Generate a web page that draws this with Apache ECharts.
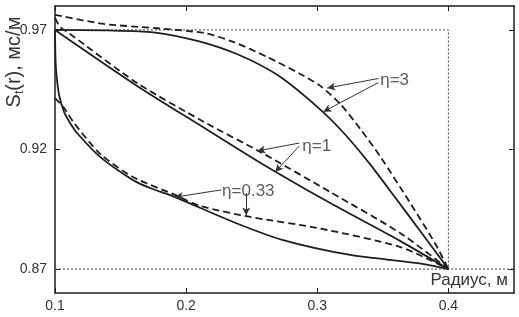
<!DOCTYPE html>
<html>
<head>
<meta charset="utf-8">
<script src="https://cdn.jsdelivr.net/npm/echarts@6/dist/echarts.min.js"></script>
<style>
  html, body { margin: 0; padding: 0; background: #fff; }
  #chart { width: 519px; height: 317px; }
</style>
</head>
<body>
<div id="chart"></div>
<script>
// tick values
var xTicks = [0.1, 0.2, 0.3, 0.4];
var yTicks = [0.87, 0.92, 0.97];

// curves: [radius, S_t]
var eta3Solid = [[0.1, 0.97], [0.14, 0.9698], [0.175, 0.969], [0.21, 0.9652], [0.24, 0.9596],
  [0.27, 0.951], [0.30, 0.9378], [0.32, 0.927], [0.34, 0.914], [0.36, 0.8995], [0.38, 0.8848], [0.4, 0.87]];
var eta3Dash = [[0.1, 0.9763], [0.1374, 0.9725], [0.1756, 0.9708], [0.2137, 0.9687], [0.2359, 0.965],
  [0.2618, 0.9587], [0.287, 0.9516], [0.3023, 0.9466], [0.3176, 0.939], [0.3328, 0.9286],
  [0.3481, 0.917], [0.371, 0.8975], [0.3901, 0.8805], [0.4, 0.87]];
var eta1Solid = [[0.1, 0.97], [0.1626, 0.9466], [0.2137, 0.9291], [0.2565, 0.9145], [0.3099, 0.8976],
  [0.3634, 0.8817], [0.4, 0.87]];
var eta1Dash = [[0.1, 0.975], [0.1038, 0.9713], [0.1115, 0.9683], [0.1626, 0.9478], [0.2137, 0.9315],
  [0.2565, 0.919], [0.3099, 0.9022], [0.3634, 0.885], [0.4, 0.87]];
var eta033Solid = [[0.1, 0.97], [0.1004, 0.9574], [0.1013, 0.9503], [0.1031, 0.9428], [0.1069, 0.9357],
  [0.1115, 0.9311], [0.1168, 0.9269], [0.1344, 0.9169], [0.1595, 0.9072], [0.1725, 0.9039],
  [0.1916, 0.9001], [0.2359, 0.8897], [0.274, 0.8821], [0.3252, 0.8759], [0.3763, 0.8725], [0.4, 0.87]];
var eta033Dash = [[0.1, 0.9415], [0.1069, 0.9374], [0.1145, 0.9311], [0.1344, 0.9182], [0.1595, 0.9085],
  [0.1916, 0.901], [0.2107, 0.8964], [0.2489, 0.8918], [0.3, 0.8872], [0.3634, 0.8792], [0.4, 0.87]];

// dotted guide lines
var guide97 = [[0.1, 0.97], [0.4, 0.97], [0.4, 0.87]];
var guide87 = [[0.1, 0.87], [0.45, 0.87]];

// labels and their arrows (data coords)
var noteTexts = [
  { name: 'η=3', value: [0.348, 0.9491] },
  { name: 'η=1', value: [0.2886, 0.9215] },
  { name: 'η=0.33', value: [0.2274, 0.9026] }
];
var noteArrows = [
  [[0.3466, 0.9497], [0.3076, 0.9457]],
  [[0.3466, 0.9480], [0.3046, 0.9358]],
  [[0.2863, 0.9227], [0.2542, 0.9194]],
  [[0.2863, 0.9215], [0.2679, 0.9106]],
  [[0.2267, 0.9031], [0.1916, 0.9001]],
  [[0.2458, 0.9018], [0.2458, 0.8924]]
];

var FONT = 'Liberation Sans';
var INK = '#1e1e1e';
var DASH = [7, 4];

function curve(data, dashed) {
  return {
    type: 'line',
    data: data,
    showSymbol: false,
    smooth: 0.25,
    silent: true,
    z: 3,
    lineStyle: { color: INK, width: 1.8, type: dashed ? DASH : 'solid' }
  };
}
function guide(data) {
  return {
    type: 'line',
    data: data,
    showSymbol: false,
    silent: true,
    z: 1,
    lineStyle: { color: '#444', width: 1, type: [2, 2] }
  };
}

var arrowData = noteArrows.map(function (a) {
  return [{ coord: a[0] }, { coord: a[1] }];
});

var chart = echarts.init(document.getElementById('chart'));
var option = {
  animation: false,
  backgroundColor: '#fff',
  grid: { left: 55, right: 5, top: 6, bottom: 24 },
  xAxis: [{
    type: 'value', min: 0.1, max: 0.45, position: 'bottom',
    axisLine: { lineStyle: { color: INK, width: 1.5 } },
    axisTick: { inside: true, length: 5, customValues: xTicks, lineStyle: { color: INK } },
    axisLabel: {
      customValues: xTicks, margin: 6, fontSize: 14, color: '#333', fontFamily: FONT,
      formatter: function (v) { return v.toFixed(1); }
    },
    splitLine: { show: false }
  }, {
    type: 'value', min: 0.1, max: 0.45, position: 'top',
    axisLine: { lineStyle: { color: INK, width: 1.5 } },
    axisTick: { inside: true, length: 5, customValues: xTicks, lineStyle: { color: INK } },
    axisLabel: { show: false },
    splitLine: { show: false }
  }],
  yAxis: [{
    type: 'value', min: 0.86, max: 0.98, position: 'left',
    axisLine: { lineStyle: { color: INK, width: 1.5 } },
    axisTick: { inside: true, length: 5, customValues: yTicks, lineStyle: { color: INK } },
    axisLabel: {
      customValues: yTicks, margin: 8, fontSize: 14, color: '#333', fontFamily: FONT,
      formatter: function (v) { return v.toFixed(2); }
    },
    splitLine: { show: false }
  }, {
    type: 'value', min: 0.86, max: 0.98, position: 'right',
    axisLine: { lineStyle: { color: INK, width: 1.5 } },
    axisTick: { inside: true, length: 5, customValues: yTicks, lineStyle: { color: INK } },
    axisLabel: { show: false },
    splitLine: { show: false }
  }],
  graphic: [{
    type: 'text', x: 14, y: 62, rotation: Math.PI / 2,
    style: {
      text: '{m|S}{s|t}{m|(r), мс/м}',
      align: 'center', verticalAlign: 'middle',
      rich: {
        m: { fontSize: 20, fontFamily: FONT, fill: '#333', lineHeight: 24 },
        s: { fontSize: 12, fontFamily: FONT, fill: '#333', lineHeight: 12, verticalAlign: 'bottom' }
      }
    }
  }, {
    type: 'text', x: 508, y: 280,
    style: {
      text: 'Радиус, м', align: 'right', verticalAlign: 'middle',
      fontSize: 17, fontFamily: FONT, fill: '#333'
    }
  }],
  series: [
    guide(guide97),
    guide(guide87),
    curve(eta3Solid, false),
    curve(eta3Dash, true),
    curve(eta1Solid, false),
    curve(eta1Dash, true),
    curve(eta033Solid, false),
    curve(eta033Dash, true),
    {
      type: 'scatter',
      data: noteTexts,
      symbolSize: 0,
      silent: true,
      z: 5,
      label: {
        show: true, position: 'right', distance: 0,
        formatter: '{b}', fontSize: 17, fontFamily: FONT, color: '#333'
      },
      markLine: {
        silent: true,
        symbol: ['none', 'arrow'],
        symbolSize: [6, 8],
        label: { show: false },
        lineStyle: { color: '#333', width: 1, type: 'solid' },
        data: arrowData
      }
    }
  ]
};
chart.setOption(option);
</script>
</body>
</html>
